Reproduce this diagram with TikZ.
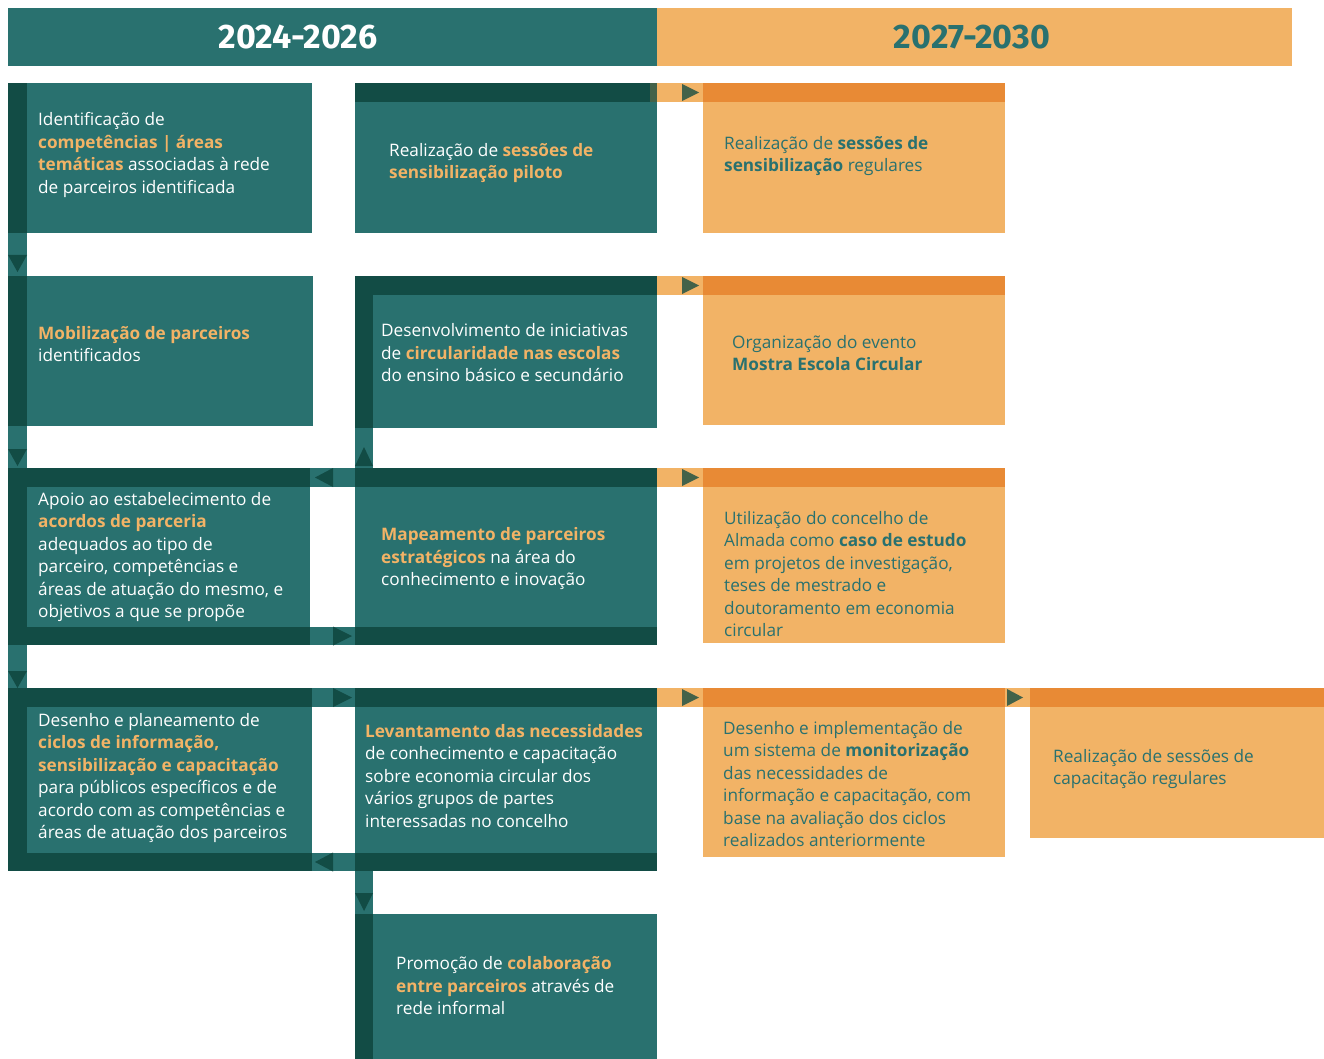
\documentclass[tikz,border=0pt]{standalone}
\usepackage{fontspec}
\setmainfont{Open Sans}
\newfontfamily\headfont{Fira Sans}
\usetikzlibrary{positioning}

\definecolor{tealc}{HTML}{29716F}
\definecolor{darkc}{HTML}{124C45}
\definecolor{orangeL}{HTML}{F2B366}
\definecolor{orangeD}{HTML}{E88A35}
\definecolor{arrowc}{HTML}{436249}

\newcommand{\hl}[1]{\textcolor{orangeL}{\bfseries #1}}

\tikzset{
  txt/.style={anchor=west, align=left, inner sep=0pt, text=white,
    font=\fontsize{17.2}{22.5}\selectfont},
  otxt/.style={txt, text=tealc},
  head/.style={font=\headfont\bfseries\fontsize{34}{40}\selectfont},
}

\begin{document}
\begin{tikzpicture}[x=1pt,y=-1pt]
    \useasboundingbox (0,0) rectangle (1324,1059);

    % Header
    \fill[tealc] (8,8) rectangle (657,66);
    \fill[orangeL] (657,8) rectangle (1292,66);
    \node[head, text=white] (h1) at (298,37) {2024-2026};
    \node[head, text=tealc] (h2) at (972,37) {2027-2030};

    % Column 1
    \fill[tealc] (8,83) rectangle (312,233);
    \fill[darkc] (8,83) rectangle (27,233);
    \fill[tealc] (8,233) rectangle (27,276);
    \fill[tealc] (8,276) rectangle (313,426);
    \fill[darkc] (8,276) rectangle (27,426);
    \fill[tealc] (8,426) rectangle (27,468);
    \fill[tealc] (8,468) rectangle (310,645);
    \fill[darkc] (8,468) rectangle (27,645);
    \fill[darkc] (8,468) rectangle (310,487);
    \fill[darkc] (8,627) rectangle (310,645);
    \fill[tealc] (310,468) rectangle (355,487);
    \fill[tealc] (310,627) rectangle (355,645);
    \fill[tealc] (8,645) rectangle (27,688);
    \fill[tealc] (8,688) rectangle (312,871);
    \fill[darkc] (8,688) rectangle (27,871);
    \fill[darkc] (8,688) rectangle (312,707);
    \fill[darkc] (8,853) rectangle (312,871);
    \fill[tealc] (312,688) rectangle (355,707);
    \fill[tealc] (312,853) rectangle (355,871);

    % Column 2
    \fill[tealc] (355,83) rectangle (657,233);
    \fill[darkc] (355,83) rectangle (650,102);
    \fill[arrowc] (650,83) rectangle (657,102);
    \fill[tealc] (355,276) rectangle (657,428);
    \fill[darkc] (355,276) rectangle (657,295);
    \fill[darkc] (355,276) rectangle (373,428);
    \fill[tealc] (355,428) rectangle (373,468);
    \fill[tealc] (355,468) rectangle (657,645);
    \fill[darkc] (355,468) rectangle (657,487);
    \fill[darkc] (355,627) rectangle (657,645);
    \fill[tealc] (355,688) rectangle (657,871);
    \fill[darkc] (355,688) rectangle (657,707);
    \fill[darkc] (355,853) rectangle (657,871);
    \fill[tealc] (355,871) rectangle (373,914);
    \fill[tealc] (355,914) rectangle (657,1059);
    \fill[darkc] (355,914) rectangle (373,1059);

    % Column 3
    \foreach \ya/\yb in {83/102, 276/295, 468/487, 688/707}
        \fill[orangeL] (657,\ya) rectangle (703,\yb);
    \fill[orangeD] (703,83) rectangle (1005,102);
    \fill[orangeL] (703,102) rectangle (1005,233);
    \fill[orangeD] (703,276) rectangle (1005,295);
    \fill[orangeL] (703,295) rectangle (1005,425);
    \fill[orangeD] (703,468) rectangle (1005,487);
    \fill[orangeL] (703,487) rectangle (1005,643);
    \fill[orangeD] (703,688) rectangle (1005,707);
    \fill[orangeL] (703,707) rectangle (1005,857);
    \fill[orangeL] (1005,688) rectangle (1030,707);
    \fill[orangeD] (1030,688) rectangle (1324,707);
    \fill[orangeL] (1030,707) rectangle (1324,838);

    % Arrow heads
    \foreach \y in {92.5, 285.5, 477.5, 697.5}
        \fill[arrowc] (682,\y-8.5) -- (699,\y) -- (682,\y+8.5) -- cycle;
    \fill[arrowc] (1007,689) -- (1023,697.5) -- (1007,706) -- cycle;
    \foreach \y in {477.5, 862}
        \fill[darkc] (333,\y-9.5) -- (315,\y) -- (333,\y+9.5) -- cycle;
    \foreach \y in {636, 697.5}
        \fill[darkc] (333,\y-9.5) -- (352,\y) -- (333,\y+9.5) -- cycle;
    \foreach \ya/\yb in {255/272, 449/466, 671/688}
        \fill[darkc] (8,\ya) -- (27,\ya) -- (17.5,\yb) -- cycle;
    \fill[darkc] (355,466) -- (373,466) -- (364,447) -- cycle;
    \fill[darkc] (355,893) -- (373,893) -- (364,911) -- cycle;

    % Texts
    \node[txt] (ident) at (38,155) {Identificação de\\\hl{competências | áreas}\\\hl{temáticas} associadas à rede\\de parceiros identificada};
    \node[txt] (mobil) at (38,344) {\hl{Mobilização de parceiros}\\identificados};
    \node[txt] (apoio) at (38,557) {Apoio ao estabelecimento de\\\hl{acordos de parceria}\\adequados ao tipo de\\parceiro, competências e\\áreas de atuação do mesmo, e\\objetivos a que se propõe};
    \node[txt] (desenho) at (38,778) {Desenho e planeamento de\\\hl{ciclos de informação,}\\\hl{sensibilização e capacitação}\\para públicos específicos e de\\acordo com as competências e\\áreas de atuação dos parceiros};
    \node[txt] (sessoes) at (389,163) {Realização de \hl{sessões de}\\\hl{sensibilização piloto}};
    \node[txt] (escolas) at (381,353) {Desenvolvimento de iniciativas\\de \hl{circularidade nas escolas}\\do ensino básico e secundário};
    \node[txt] (mapeam) at (381,559) {\hl{Mapeamento de parceiros}\\\hl{estratégicos} na área do\\conhecimento e inovação};
    \node[txt] (levant) at (365,776) {\hl{Levantamento das necessidades}\\de conhecimento e capacitação\\sobre economia circular dos\\vários grupos de partes\\interessadas no concelho};
    \node[txt] (colab) at (396,986) {Promoção de \hl{colaboração}\\\hl{entre parceiros} através de\\rede informal};
    \node[otxt] (regular) at (724,156) {Realização de \textbf{sessões de}\\\textbf{sensibilização} regulares};
    \node[otxt] (mostra) at (732,353) {Organização do evento\\\textbf{Mostra Escola Circular}};
    \node[otxt] (almada) at (724,574) {Utilização do concelho de\\Almada como \textbf{caso de estudo}\\em projetos de investigação,\\teses de mestrado e\\doutoramento em economia\\circular};
    \node[otxt] (monitor) at (723,784) {Desenho e implementação de\\um sistema de \textbf{monitorização}\\das necessidades de\\informação e capacitação, com\\base na avaliação dos ciclos\\realizados anteriormente};
    \node[otxt] (capacit) at (1053,769) {Realização de sessões de\\capacitação regulares};
\end{tikzpicture}
\end{document}
